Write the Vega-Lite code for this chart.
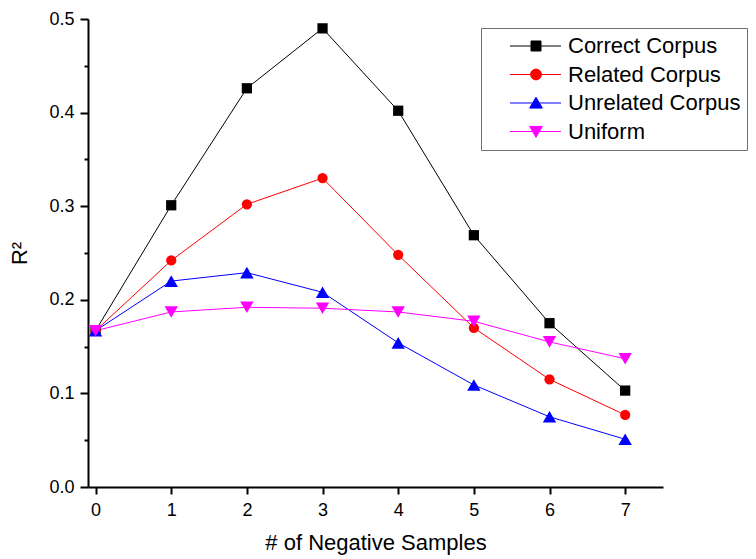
{
  "$schema": "https://vega.github.io/schema/vega-lite/v6.json",
  "width": 575,
  "height": 468,
  "autosize": {"type": "none"},
  "padding": {"left": 88, "top": 19, "right": 93, "bottom": 72},
  "background": "white",
  "config": {
    "view": {"stroke": null},
    "font": "Liberation Sans",
    "axis": {"grid": false, "domainColor": "black", "domainWidth": 2, "tickColor": "black", "tickWidth": 2, "labelColor": "black", "titleColor": "black", "labelFont": "Liberation Sans", "titleFont": "Liberation Sans", "titleFontWeight": "normal"}
  },
  "data": {
    "values": [
      {"n": 0, "series": "Correct Corpus", "r2": 0.167},
      {"n": 1, "series": "Correct Corpus", "r2": 0.301},
      {"n": 2, "series": "Correct Corpus", "r2": 0.426},
      {"n": 3, "series": "Correct Corpus", "r2": 0.490},
      {"n": 4, "series": "Correct Corpus", "r2": 0.402},
      {"n": 5, "series": "Correct Corpus", "r2": 0.269},
      {"n": 6, "series": "Correct Corpus", "r2": 0.175},
      {"n": 7, "series": "Correct Corpus", "r2": 0.103},
      {"n": 0, "series": "Related Corpus", "r2": 0.167},
      {"n": 1, "series": "Related Corpus", "r2": 0.242},
      {"n": 2, "series": "Related Corpus", "r2": 0.302},
      {"n": 3, "series": "Related Corpus", "r2": 0.330},
      {"n": 4, "series": "Related Corpus", "r2": 0.248},
      {"n": 5, "series": "Related Corpus", "r2": 0.170},
      {"n": 6, "series": "Related Corpus", "r2": 0.115},
      {"n": 7, "series": "Related Corpus", "r2": 0.077},
      {"n": 0, "series": "Unrelated Corpus", "r2": 0.167},
      {"n": 1, "series": "Unrelated Corpus", "r2": 0.220},
      {"n": 2, "series": "Unrelated Corpus", "r2": 0.229},
      {"n": 3, "series": "Unrelated Corpus", "r2": 0.208},
      {"n": 4, "series": "Unrelated Corpus", "r2": 0.154},
      {"n": 5, "series": "Unrelated Corpus", "r2": 0.109},
      {"n": 6, "series": "Unrelated Corpus", "r2": 0.075},
      {"n": 7, "series": "Unrelated Corpus", "r2": 0.051},
      {"n": 0, "series": "Uniform", "r2": 0.167},
      {"n": 1, "series": "Uniform", "r2": 0.187},
      {"n": 2, "series": "Uniform", "r2": 0.192},
      {"n": 3, "series": "Uniform", "r2": 0.191},
      {"n": 4, "series": "Uniform", "r2": 0.187},
      {"n": 5, "series": "Uniform", "r2": 0.177},
      {"n": 6, "series": "Uniform", "r2": 0.155},
      {"n": 7, "series": "Uniform", "r2": 0.137}
    ]
  },
  "encoding": {
    "x": {
      "field": "n", "type": "quantitative",
      "scale": {"domain": [-0.1, 7.5], "nice": false, "zero": false},
      "axis": {"values": [0, 1, 2, 3, 4, 5, 6, 7], "format": "d", "labelFontSize": 18, "tickSize": 7, "labelPadding": 7, "labelFlush": false, "title": "# of Negative Samples", "titleFontSize": 22, "titlePadding": 13}
    },
    "y": {
      "field": "r2", "type": "quantitative",
      "scale": {"domain": [0, 0.5], "nice": false},
      "axis": {
        "values": [0, 0.05, 0.1, 0.15, 0.2, 0.25, 0.3, 0.35, 0.4, 0.45, 0.5],
        "labelExpr": "round(datum.value*100) % 10 === 0 ? format(datum.value, '.1f') : ''",
        "tickSize": {"condition": {"test": "round(datum.value*100) % 10 === 0", "value": 8}, "value": 4},
        "labelFontSize": 18, "labelPadding": 6, "labelFlush": false,
        "title": "R²", "titleFontSize": 22, "titlePadding": 17
      }
    }
  },
  "layer": [
    {
      "mark": {"type": "line", "strokeWidth": 1},
      "encoding": {
        "color": {
          "field": "series", "type": "nominal",
          "scale": {"domain": ["Correct Corpus", "Related Corpus", "Unrelated Corpus", "Uniform"], "range": ["#000000", "#ff0000", "#0000ff", "#ff00ff"]},
          "legend": {
            "orient": "none", "legendX": 393, "legendY": 9, "title": null,
            "padding": 6, "strokeColor": "#707070", "fillColor": "white",
            "labelFontSize": 22, "labelColor": "black", "labelLimit": 400, "labelOffset": 7,
            "symbolSize": 5329, "symbolStrokeWidth": 1, "clipHeight": 24, "rowPadding": 4.5,
            "encode": {
              "symbols": {
                "update": {
                  "shape": {"signal": "datum.value === 'Correct Corpus' ? 'M-0.384,0H1.014M0.192,-0.137H0.466V0.137H0.192Z' : datum.value === 'Related Corpus' ? 'M-0.384,0H1.014M0.181,0A0.148,0.148 0 1,0 0.477,0A0.148,0.148 0 1,0 0.181,0Z' : datum.value === 'Unrelated Corpus' ? 'M-0.384,0H1.014M0.329,-0.16L0.503,0.14L0.155,0.14Z' : 'M-0.384,0H1.014M0.329,0.16L0.503,-0.14L0.155,-0.14Z'"},
                  "fill": {"signal": "datum.value === 'Correct Corpus' ? '#000000' : datum.value === 'Related Corpus' ? '#ff0000' : datum.value === 'Unrelated Corpus' ? '#0000ff' : '#ff00ff'"},
                  "stroke": {"signal": "datum.value === 'Correct Corpus' ? '#000000' : datum.value === 'Related Corpus' ? '#ff0000' : datum.value === 'Unrelated Corpus' ? '#0000ff' : '#ff00ff'"},
                  "strokeWidth": {"value": 1},
                  "opacity": {"value": 1},
                  "fillOpacity": {"value": 1},
                  "strokeOpacity": {"value": 1}
                }
              }
            }
          }
        }
      }
    },
    {
      "transform": [{"filter": "datum.series === 'Correct Corpus'"}],
      "mark": {"type": "point", "filled": true, "opacity": 1, "shape": "square", "size": 105, "color": "#000000"}
    },
    {
      "transform": [{"filter": "datum.series === 'Related Corpus'"}],
      "mark": {"type": "point", "filled": true, "opacity": 1, "shape": "circle", "size": 105, "color": "#ff0000"}
    },
    {
      "transform": [{"filter": "datum.series === 'Unrelated Corpus'"}],
      "mark": {"type": "point", "filled": true, "opacity": 1, "shape": "triangle-up", "size": 180, "color": "#0000ff"}
    },
    {
      "transform": [{"filter": "datum.series === 'Uniform'"}],
      "mark": {"type": "point", "filled": true, "opacity": 1, "shape": "triangle-down", "size": 180, "color": "#ff00ff"}
    }
  ]
}
